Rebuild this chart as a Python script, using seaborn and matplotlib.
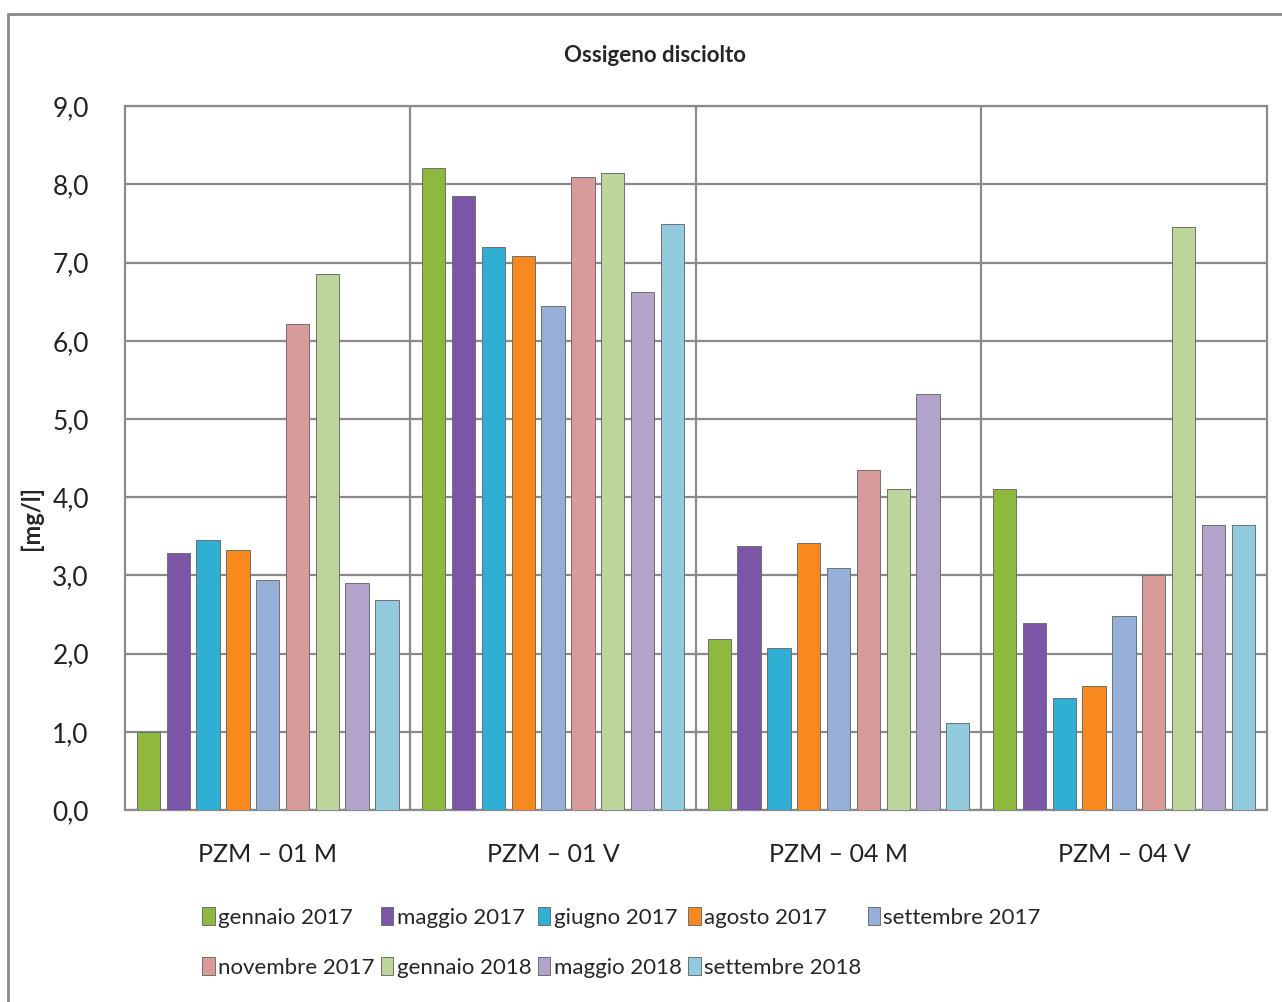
import pandas as pd
import matplotlib.pyplot as plt
import matplotlib.ticker as mticker
from matplotlib.patches import Rectangle
import seaborn as sns

stations = ["PZM – 01 M", "PZM – 01 V", "PZM – 04 M", "PZM – 04 V"]
campaigns = ["gennaio 2017", "maggio 2017", "giugno 2017", "agosto 2017", "settembre 2017",
             "novembre 2017", "gennaio 2018", "maggio 2018", "settembre 2018"]

# dissolved oxygen [mg/l], one list per campaign, in station order
gen_2017 = [1.00, 8.21, 2.19, 4.10]
mag_2017 = [3.29, 7.85, 3.38, 2.39]
giu_2017 = [3.45, 7.20, 2.07, 1.43]
ago_2017 = [3.32, 7.09, 3.42, 1.58]
set_2017 = [2.94, 6.44, 3.10, 2.48]
nov_2017 = [6.21, 8.10, 4.35, 3.01]
gen_2018 = [6.85, 8.15, 4.11, 7.45]
mag_2018 = [2.90, 6.63, 5.32, 3.65]
set_2018 = [2.69, 7.49, 1.11, 3.65]

colors = ["#8FB83F", "#7B56A6", "#2FAFD3", "#F7891F", "#95AFD9",
          "#D99A9A", "#BCD59A", "#B2A3CA", "#92CBDD"]

series = [gen_2017, mag_2017, giu_2017, ago_2017, set_2017, nov_2017, gen_2018, mag_2018, set_2018]
rows = []
for camp, vals in zip(campaigns, series):
    for st, v in zip(stations, vals):
        rows.append({"stazione": st, "campagna": camp, "valore": v})
df = pd.DataFrame(rows)

sns.set_theme(style="white")
plt.rcParams["font.family"] = ["Lato", "DejaVu Sans"]

fig = plt.figure(figsize=(12.82, 10.02), dpi=100)
ax = fig.add_axes([0.0975, 0.1916, 0.8905, 0.7024])

sns.barplot(data=df, x="stazione", y="valore", hue="campagna", order=stations,
            hue_order=campaigns, palette=colors, saturation=1, width=0.94, gap=0.22,
            edgecolor="#707070", linewidth=0.7, ax=ax, legend=True, zorder=3)

ax.set_ylim(0, 9)
ax.set_xlim(-0.5, 3.5)
ax.yaxis.set_major_locator(mticker.MultipleLocator(1))
ax.yaxis.set_major_formatter(mticker.FuncFormatter(lambda v, p: f"{v:.1f}".replace(".", ",")))
ax.grid(axis="y", color="#8a8a8a", linewidth=1.6, zorder=0)
for xb in [0.5, 1.5, 2.5]:
    ax.axvline(xb, color="#8a8a8a", linewidth=1.6, zorder=0)
for s in ax.spines.values():
    s.set_color("#8a8a8a")
    s.set_linewidth(1.6)

ax.tick_params(axis="y", labelsize=19, pad=26, colors="#222222", length=0)
ax.tick_params(axis="x", labelsize=18, pad=24, colors="#222222", length=0)
ax.set_xlabel("")
ax.set_ylabel("[mg/l]", fontsize=17, fontweight="bold")
ax.yaxis.set_label_coords(-0.072, 0.415)
fig.text(655 / 1282, 1 - 56 / 1002, "Ossigeno disciolto", fontsize=16,
         fontweight="bold", ha="center", va="center")

handles, labels = ax.get_legend_handles_labels()
order = [0, 5, 1, 6, 2, 7, 3, 8, 4]
ax.legend([handles[i] for i in order], [labels[i] for i in order],
          loc="upper left", bbox_to_anchor=(0.06, -0.125), ncol=5, frameon=False,
          fontsize=16, handlelength=0.55, handleheight=0.9, handletextpad=0.15,
          columnspacing=0.3, labelspacing=1.3, borderaxespad=0)

# outer chart frame
fig.patches.append(Rectangle((8 / 1282, -0.05), 1.2, 1 - 14 / 1002 + 0.05,
                             transform=fig.transFigure, fill=False,
                             edgecolor="#8a8a8a", linewidth=2))

fig.savefig("out.png", dpi=100)
